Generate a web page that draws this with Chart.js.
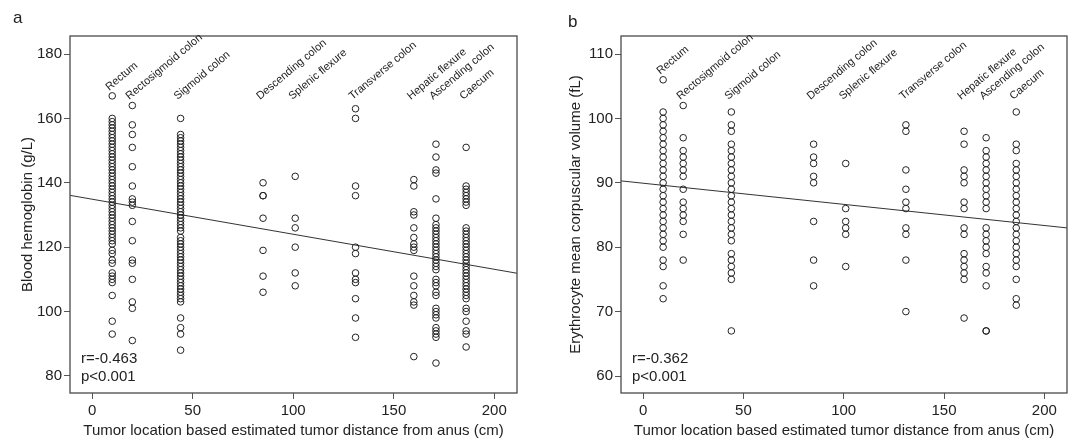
<!DOCTYPE html>
<html>
<head>
<meta charset="utf-8">
<script src="https://cdn.jsdelivr.net/npm/chart.js@4/dist/chart.umd.min.js"></script>
<style>
  html, body { margin: 0; padding: 0; background: #fff; }
  .panel { position: absolute; top: 0; height: 441px; }
</style>
</head>
<body>
<div class="panel" style="left:0;width:536px"><canvas id="chart-hb"></canvas></div>
<div class="panel" style="left:536px;width:536px"><canvas id="chart-mcv"></canvas></div>
<script>
const sites = ['Rectum', 'Rectosigmoid colon', 'Sigmoid colon', 'Descending colon', 'Splenic flexure',
  'Transverse colon', 'Hepatic flexure', 'Ascending colon', 'Caecum'];
const siteDistance = [10, 20, 44, 85, 101, 131, 160, 171, 186]; // cm from anus
const distanceTicks = [0, 50, 100, 150, 200];

// blood hemoglobin (g/L), one list per site
const hbValues = [
  [167, 160, 159, 158, 157, 156, 155, 154, 153, 152, 151, 150, 149, 148, 147, 146, 145, 144, 143, 142, 141, 140,
   139, 138, 137, 136, 135, 134, 133, 132, 131, 130, 129, 128, 127, 126, 125, 124, 123, 122, 121, 119, 118, 116,
   115, 112, 111, 110, 109, 105, 97, 93],
  [164, 158, 155, 151, 145, 139, 135, 134, 133, 128, 122, 116, 115, 110, 103, 101, 91],
  [160, 155, 154, 153, 152, 151, 150, 149, 148, 147, 146, 145, 144, 143, 142, 141, 140, 139, 138, 137, 136, 135,
   134, 133, 132, 131, 130, 129, 128, 127, 126, 125, 123, 122, 121, 120, 119, 118, 117, 116, 115, 114, 113, 112,
   111, 110, 109, 108, 107, 106, 105, 104, 103, 98, 95, 93, 88],
  [140, 136, 136, 129, 119, 111, 106],
  [142, 129, 126, 120, 112, 108],
  [163, 160, 139, 136, 120, 118, 112, 110, 109, 104, 98, 92],
  [141, 139, 131, 130, 126, 123, 121, 120, 119, 111, 108, 105, 103, 102, 86],
  [152, 148, 144, 143, 135, 129, 127, 126, 125, 124, 123, 122, 121, 120, 119, 118, 117, 116, 115, 114, 113, 110,
   109, 108, 106, 105, 101, 100, 99, 98, 95, 94, 93, 92, 84],
  [151, 139, 138, 137, 136, 135, 134, 133, 126, 125, 124, 123, 122, 121, 120, 119, 118, 117, 116, 115, 114, 113,
   112, 111, 110, 109, 108, 107, 106, 105, 104, 101, 100, 97, 94, 93, 89]
];
const hbTicks = [80, 100, 120, 140, 160, 180];
const hbFit = [136.1, 111.9]; // regression line at the two x-axis ends

// erythrocyte MCV (fL), one list per site
const mcvValues = [
  [106, 101, 100, 99, 98, 97, 96, 95, 94, 93, 92, 91, 90, 89, 88, 87, 86, 85, 84, 83, 82, 81, 80, 78, 77, 74, 72],
  [102, 97, 95, 94, 93, 92, 91, 89, 87, 86, 85, 84, 82, 78],
  [101, 99, 98, 96, 95, 94, 93, 92, 91, 90, 89, 88, 87, 86, 85, 84, 83, 82, 81, 79, 78, 77, 76, 75, 67],
  [96, 94, 93, 91, 90, 84, 78, 74],
  [93, 86, 84, 83, 82, 77],
  [99, 98, 92, 89, 87, 86, 83, 82, 78, 70],
  [98, 96, 92, 91, 90, 87, 86, 83, 82, 79, 78, 77, 76, 75, 69],
  [97, 95, 94, 93, 92, 91, 90, 89, 88, 87, 86, 83, 82, 81, 80, 79, 77, 76, 74, 67, 67],
  [101, 96, 95, 93, 92, 91, 90, 89, 88, 87, 86, 85, 84, 83, 82, 81, 80, 79, 78, 77, 75, 72, 71]
];
const mcvTicks = [60, 70, 80, 90, 100, 110];
const mcvFit = [90.3, 83.0];

const xRange = [-11, 211.3];
const FONT = '"Liberation Sans", Arial, sans-serif';
Chart.defaults.font.family = FONT;
Chart.defaults.color = '#222';

// frame, site names, r/p text and the panel letter
const panelDecor = {
  id: 'panelDecor',
  afterDraw(chart, args, o) {
    const { ctx, chartArea: a, scales: { x, y } } = chart;
    ctx.save();
    ctx.strokeStyle = '#4a4a4a';
    ctx.lineWidth = 1.3;
    ctx.strokeRect(a.left, a.top, a.right - a.left, a.bottom - a.top);

    ctx.fillStyle = '#222';
    ctx.font = '15px ' + FONT;
    ctx.textBaseline = 'middle';
    ctx.fillText(o.stats[0], a.left + 11, a.bottom - 34);
    ctx.fillText(o.stats[1], a.left + 11, a.bottom - 16);

    ctx.textBaseline = 'alphabetic';
    ctx.font = '17px ' + FONT;
    ctx.fillText(o.letter, o.letterX, o.letterY);

    ctx.font = '11px ' + FONT;
    o.values.forEach((vals, i) => {
      const px = x.getPixelForValue(siteDistance[i]);
      const py = Math.min(a.top + 64, y.getPixelForValue(Math.max(...vals)) - 5);
      ctx.save();
      ctx.translate(px - 3, py);
      ctx.rotate(-40 * Math.PI / 180);
      ctx.fillText(sites[i], 0, 0);
      ctx.restore();
    });
    ctx.restore();
  }
};

function makePanel(id, p) {
  const points = [];
  p.values.forEach((vals, i) => vals.forEach(v => points.push({ x: siteDistance[i], y: v })));

  return new Chart(document.getElementById(id), {
    type: 'scatter',
    data: {
      datasets: [
        {
          data: points,
          pointStyle: 'circle', pointRadius: 3.3, pointHoverRadius: 3.3,
          backgroundColor: 'rgba(0,0,0,0)', borderColor: '#222', borderWidth: 1,
        },
        {
          type: 'line',
          data: [{ x: xRange[0], y: p.fit[0] }, { x: xRange[1], y: p.fit[1] }],
          borderColor: '#333', borderWidth: 1, pointRadius: 0, fill: false,
        }
      ]
    },
    options: {
      responsive: true,
      maintainAspectRatio: false,
      animation: false,
      layout: { padding: { top: 36, right: p.rightPad, left: 0, bottom: 0 } },
      plugins: { legend: { display: false }, tooltip: { enabled: false }, panelDecor: p },
      scales: {
        x: {
          type: 'linear', min: xRange[0], max: xRange[1],
          afterBuildTicks: s => { s.ticks = distanceTicks.map(v => ({ value: v })); },
          afterFit: s => { s.height = 48; },
          grid: { drawOnChartArea: false, tickLength: 6, color: '#555' },
          border: { display: false },
          ticks: { padding: 3, font: { size: 15 } },
          title: {
            display: true, text: 'Tumor location based estimated tumor distance from anus (cm)',
            font: { size: 15 }, padding: { top: 0, bottom: 1 }
          }
        },
        y: {
          type: 'linear', min: p.yRange[0], max: p.yRange[1],
          afterBuildTicks: s => { s.ticks = p.ticks.map(v => ({ value: v })); },
          afterFit: s => { s.width = p.yWidth; },
          grid: { drawOnChartArea: false, tickLength: 6, color: '#555' },
          border: { display: false },
          ticks: { padding: 2, font: { size: 15 } },
          title: { display: true, text: p.yTitle, font: { size: 15 }, padding: { top: p.titlePad, bottom: 0 } }
        }
      }
    },
    plugins: [panelDecor]
  });
}

makePanel('chart-hb', {
  values: hbValues, ticks: hbTicks, fit: hbFit, yRange: [74.7, 185.6],
  yTitle: 'Blood hemoglobin (g/L)', stats: ['r=-0.463', 'p<0.001'],
  letter: 'a', letterX: 13, letterY: 23, yWidth: 70, titlePad: 19, rightPad: 19
});
makePanel('chart-mcv', {
  values: mcvValues, ticks: mcvTicks, fit: mcvFit, yRange: [57.36, 112.8],
  yTitle: 'Erythrocyte mean corpuscular volume (fL)', stats: ['r=-0.362', 'p<0.001'],
  letter: 'b', letterX: 32, letterY: 27, yWidth: 85, titlePad: 31, rightPad: 5
});
</script>
</body>
</html>
